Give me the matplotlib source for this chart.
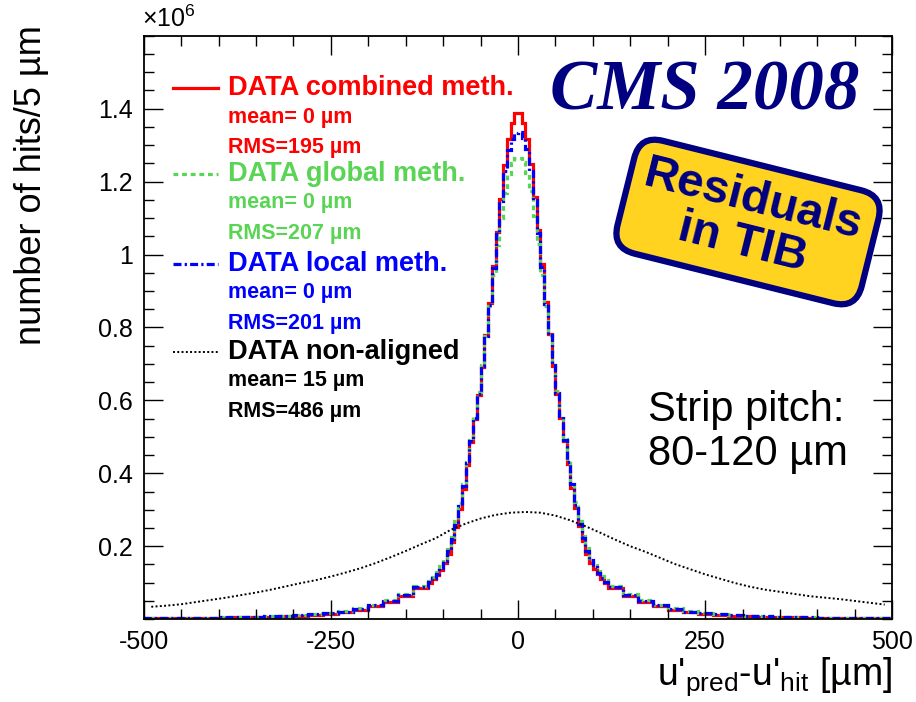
import numpy as np
import matplotlib
matplotlib.use("Agg")
import matplotlib.pyplot as plt
from matplotlib.ticker import FixedLocator, MultipleLocator
from matplotlib.lines import Line2D

plt.rcParams['font.family'] = ['Liberation Sans', 'DejaVu Sans']
plt.rcParams['mathtext.fontset'] = 'custom'
plt.rcParams['mathtext.rm'] = 'Liberation Sans'
plt.rcParams['mathtext.it'] = 'Liberation Sans:italic'

# bin edges: 20 um bins in the tails, 5 um bins in the core
edges = np.concatenate([np.arange(-500, -120, 20), np.arange(-120, 120, 5),
                        np.arange(120, 501, 20)])
# non-aligned curve read every 20 um (bin centres)
centres_wide = np.arange(-490, 500, 20)

# hits per bin, in units of 1e6
combined = [0.0025, 0.003, 0.003, 0.0035, 0.004, 0.0045, 0.005, 0.006, 0.007, 0.008,
            0.010, 0.012, 0.015, 0.020, 0.026, 0.035, 0.047, 0.063, 0.085,
            0.098, 0.109, 0.121, 0.135, 0.153, 0.178, 0.212, 0.252, 0.302, 0.358,
            0.422, 0.486, 0.550, 0.614, 0.692, 0.780, 0.866, 0.970, 1.062, 1.153,
            1.246, 1.316, 1.360, 1.388,
            1.388, 1.361, 1.318, 1.249, 1.157, 1.066, 0.974, 0.869, 0.782, 0.695,
            0.617, 0.553, 0.489, 0.426, 0.360, 0.305, 0.255, 0.215, 0.180, 0.155,
            0.137, 0.123, 0.111, 0.100,
            0.085, 0.063, 0.047, 0.035, 0.026, 0.020, 0.015, 0.012, 0.010, 0.008,
            0.007, 0.006, 0.005, 0.0045, 0.004, 0.0035, 0.003, 0.003, 0.0025]

global_ = [0.003, 0.0035, 0.0035, 0.004, 0.0045, 0.005, 0.006, 0.007, 0.008, 0.009,
           0.011, 0.014, 0.018, 0.023, 0.030, 0.040, 0.053, 0.070, 0.092,
           0.105, 0.116, 0.130, 0.146, 0.166, 0.193, 0.226, 0.268, 0.318, 0.372,
           0.432, 0.492, 0.557, 0.622, 0.698, 0.778, 0.858, 0.943, 1.027, 1.100,
           1.170, 1.222, 1.252, 1.264,
           1.265, 1.255, 1.225, 1.175, 1.105, 1.030, 0.945, 0.860, 0.780, 0.700,
           0.625, 0.560, 0.495, 0.435, 0.375, 0.320, 0.270, 0.228, 0.195, 0.168,
           0.148, 0.132, 0.118, 0.107,
           0.092, 0.070, 0.053, 0.040, 0.030, 0.023, 0.018, 0.014, 0.011, 0.009,
           0.008, 0.007, 0.006, 0.005, 0.0045, 0.004, 0.0035, 0.0035, 0.003]

local = [0.0028, 0.0032, 0.0033, 0.0038, 0.0042, 0.005, 0.0055, 0.0065, 0.0075, 0.0085,
         0.0105, 0.013, 0.016, 0.021, 0.028, 0.038, 0.050, 0.067, 0.089,
         0.101, 0.112, 0.125, 0.140, 0.159, 0.186, 0.219, 0.259, 0.310, 0.366,
         0.427, 0.489, 0.553, 0.617, 0.695, 0.778, 0.862, 0.962, 1.056, 1.146,
         1.228, 1.288, 1.318, 1.334,
         1.335, 1.320, 1.290, 1.230, 1.150, 1.060, 0.965, 0.865, 0.780, 0.697,
         0.620, 0.556, 0.492, 0.430, 0.370, 0.313, 0.262, 0.222, 0.188, 0.161,
         0.142, 0.127, 0.114, 0.103,
         0.089, 0.067, 0.050, 0.038, 0.028, 0.021, 0.016, 0.013, 0.0105, 0.0085,
         0.0075, 0.0065, 0.0055, 0.005, 0.0042, 0.0038, 0.0033, 0.0032, 0.0028]

non_aligned = [0.034, 0.037, 0.041, 0.047, 0.053, 0.059, 0.066, 0.073, 0.081, 0.090,
               0.099, 0.107, 0.117, 0.128, 0.140, 0.154, 0.170, 0.187, 0.205, 0.222,
               0.245, 0.262, 0.276, 0.286, 0.292, 0.294, 0.292, 0.284, 0.271, 0.255,
               0.237, 0.218, 0.200, 0.185, 0.168, 0.151, 0.137, 0.123, 0.111, 0.099,
               0.089, 0.081, 0.075, 0.069, 0.063, 0.059, 0.055, 0.050, 0.045, 0.040]

green = '#59D454'
navy = '#000080'

fig = plt.figure(figsize=(9.16, 7.02), dpi=100)
ax = fig.add_axes([0.157, 0.118, 0.817, 0.831])

ax.stairs(combined, edges, color='red', lw=2.3)
ax.stairs(global_, edges, color=green, lw=2.3, linestyle=(0, (1.5, 1.2)))
ax.stairs(local, edges, color='blue', lw=2.3, linestyle=(0, (2.5, 1.0, 0.7, 1.0)))
ax.plot(centres_wide, non_aligned, color='black', lw=1.4, linestyle=(0, (1, 1.2)))

ax.set_xlim(-500, 500)
ax.set_ylim(0, 1.6)
ax.xaxis.set_major_locator(FixedLocator([-500, -250, 0, 250, 500]))
ax.xaxis.set_minor_locator(MultipleLocator(50))
ax.set_xticklabels(['-500', '-250', '0', '250', '500'])
ax.yaxis.set_major_locator(FixedLocator([0.2, 0.4, 0.6, 0.8, 1.0, 1.2, 1.4]))
ax.yaxis.set_minor_locator(MultipleLocator(0.05))
ax.set_yticklabels(['0.2', '0.4', '0.6', '0.8', '1', '1.2', '1.4'])
ax.tick_params(which='both', direction='in', top=True, right=True, labelsize=18, width=1)
ax.tick_params(which='major', length=14, pad=8)
ax.tick_params(which='minor', length=7)
for s in ax.spines.values():
    s.set_linewidth(1.3)

ax.text(-0.003, 1.006, r'$\times$10$^{6}$', transform=ax.transAxes, fontsize=18,
        ha='left', va='bottom')

fig.text(0.034, 1 - 25 / 702, 'number of hits/5 µm', rotation=90, fontsize=26,
         ha='center', va='top')
fig.text(892 / 916, 1 - 698 / 702, r"u'$_{\mathrm{pred}}$-u'$_{\mathrm{hit}}$ [µm]",
         fontsize=27, ha='right', va='bottom')

# legend drawn by hand, ROOT style
entries = [
    ('DATA combined meth.', 'mean= 0 µm', 'RMS=195 µm', 'red', '-', 2.3),
    ('DATA global meth.', 'mean= 0 µm', 'RMS=207 µm', green, (0, (1.5, 1.2)), 2.3),
    ('DATA local meth.', 'mean= 0 µm', 'RMS=201 µm', 'blue', (0, (2.5, 1.0, 0.7, 1.0)), 2.3),
    ('DATA non-aligned', 'mean= 15 µm', 'RMS=486 µm', 'black', (0, (1, 1.2)), 1.4),
]
row_y = [88, 174, 264, 352]
for (name, mean, rms, col, ls, lw), y in zip(entries, row_y):
    yf = 1 - y / 702
    fig.add_artist(Line2D([173 / 916, 218 / 916], [yf, yf], color=col, lw=lw, linestyle=ls))
    fig.text(228 / 916, yf, name, color=col, fontsize=19.5, fontweight='bold', va='center')
    fig.text(228 / 916, 1 - (y + 29) / 702, mean, color=col, fontsize=15.5,
             fontweight='bold', va='center')
    fig.text(228 / 916, 1 - (y + 59) / 702, rms, color=col, fontsize=15.5,
             fontweight='bold', va='center')

fig.text(705 / 916, 1 - 92 / 702, 'CMS 2008', fontsize=51, color=navy,
         family='Liberation Serif', fontweight='bold', style='italic',
         ha='center', va='center')

fig.text(748 / 916, 1 - 222 / 702, 'Residuals\nin TIB', fontsize=34, color=navy,
         fontweight='bold', ha='center', va='center', rotation=-14,
         rotation_mode='anchor', linespacing=1.0,
         bbox=dict(boxstyle='round,pad=0.3,rounding_size=0.5', fc='#FFD320',
                   ec=navy, lw=4.5))

fig.text(648 / 916, 1 - 432 / 702, 'Strip pitch:\n80-120 µm', fontsize=30,
         ha='left', va='center', linespacing=1.1)

fig.savefig('out.png', dpi=100)
